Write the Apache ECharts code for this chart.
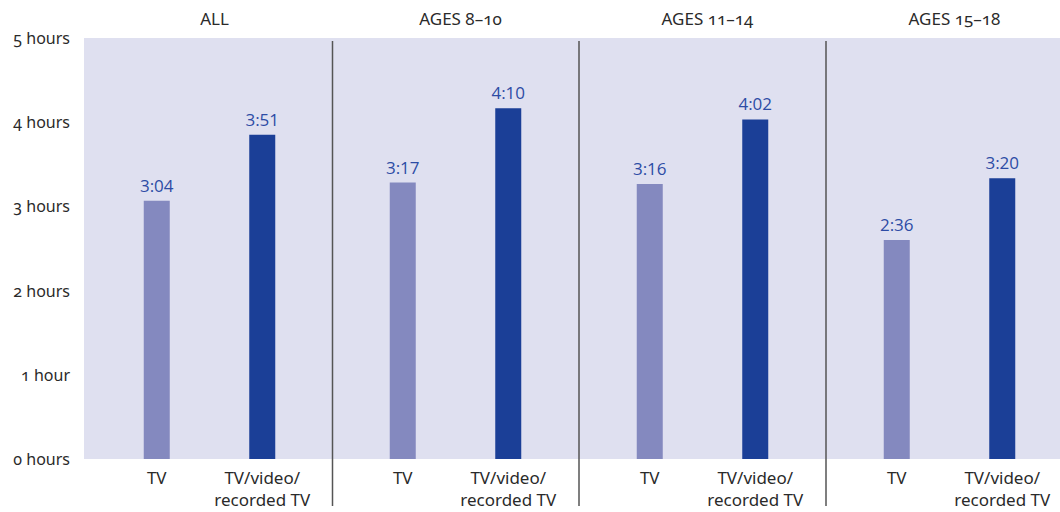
<!DOCTYPE html>
<html>
<head>
<meta charset="utf-8">
<script src="https://cdn.jsdelivr.net/npm/echarts@6/dist/echarts.min.js"></script>
<style>
  html, body { margin: 0; padding: 0; background: #ffffff; }
  #chart { width: 1060px; height: 512px; }
  /* old-style figures for the axis captions and panel headings */
  #chart svg text[style*="Noto Sans"] { font-variant-numeric: oldstyle-nums !important; }
</style>
</head>
<body>
<div id="chart"></div>
<script>
// Daily screen time, minutes per day, by age group
const panels = ['ALL', 'AGES 8–10', 'AGES 11–14', 'AGES 15–18'];
const categories = ['TV', 'TV/video/\nrecorded TV'];
const tvMinutes = [184, 197, 196, 156];
const tvVideoMinutes = [231, 250, 242, 200];
const yTicks = ['0 hours', '1 hour', '2 hours', '3 hours', '4 hours', '5 hours'];

const barColors = ['#8489bf', '#1b3f97'];
const labelColor = '#2d4ca5';
const textColor = '#2a2a2a';
const captionFont = '"Noto Sans", sans-serif';
const valueFont = '"Open Sans", sans-serif';

const plotTop = 38, plotBottom = 53;
const gridLefts = [104, 350, 597, 844];
const gridWidth = 211;

function fmt(min) {
  const h = Math.floor(min / 60), m = min % 60;
  return h + ':' + String(m).padStart(2, '0');
}

const chart = echarts.init(document.getElementById('chart'), null, { renderer: 'svg' });

const grids = [
  // shaded backdrop that also carries the shared y axis
  { left: 84, right: 0, top: plotTop, bottom: plotBottom, show: true,
    backgroundColor: '#dfe0f0', borderWidth: 0 }
];
const xAxes = [{ type: 'value', gridIndex: 0, show: false, min: 0, max: 1 }];
const yAxes = [{
  type: 'value', gridIndex: 0, min: 0, max: 5, interval: 1,
  axisLine: { show: false }, axisTick: { show: false }, splitLine: { show: false },
  axisLabel: { margin: 14, color: textColor, fontSize: 16, fontFamily: captionFont,
    formatter: v => yTicks[v] }
}];
const series = [];
const titles = [];

panels.forEach((name, i) => {
  const g = i + 1;
  grids.push({ left: gridLefts[i], width: gridWidth, top: plotTop, bottom: plotBottom });
  xAxes.push({
    type: 'category', gridIndex: g, data: categories,
    axisLine: { show: false }, axisTick: { show: false },
    axisLabel: { margin: 7, color: textColor, fontSize: 17, lineHeight: 22,
      fontFamily: captionFont, interval: 0 }
  });
  yAxes.push({ type: 'value', gridIndex: g, min: 0, max: 5, show: false });
  const vals = [tvMinutes[i], tvVideoMinutes[i]];
  series.push({
    type: 'bar', xAxisIndex: g, yAxisIndex: g, barWidth: 26,
    data: vals.map((m, k) => ({ value: m / 60, minutes: m, itemStyle: { color: barColors[k] } })),
    label: {
      show: true, position: 'top', distance: 7, color: labelColor,
      fontSize: 17, fontFamily: valueFont,
      formatter: p => fmt(p.data.minutes)
    },
    silent: true
  });
  titles.push({
    text: name, left: gridLefts[i] + gridWidth / 2, top: 5, textAlign: 'center',
    textStyle: { color: textColor, fontSize: 17, fontWeight: 'normal', fontFamily: captionFont }
  });
});

// vertical dividers between the age panels
const dividers = [1, 2, 3].map(i => {
  const x = (gridLefts[i - 1] + gridWidth + gridLefts[i]) / 2;
  return { type: 'line', shape: { x1: x, y1: 41, x2: x, y2: 506 },
    style: { stroke: '#555555', lineWidth: 1.5 }, z: 10 };
});

chart.setOption({
  animation: false,
  title: titles,
  grid: grids,
  xAxis: xAxes,
  yAxis: yAxes,
  series: series,
  graphic: dividers
});
</script>
</body>
</html>
